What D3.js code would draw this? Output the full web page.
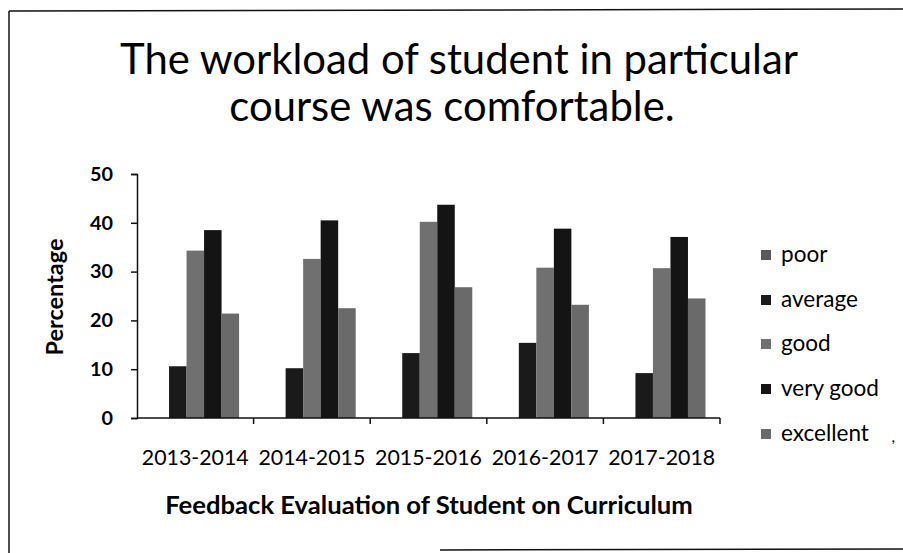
<!DOCTYPE html>
<html>
<head>
<meta charset="utf-8">
<script src="https://cdn.jsdelivr.net/npm/d3@7"></script>
<style>
  html, body { margin: 0; padding: 0; background: #fff; }
  svg { display: block; font-family: Lato, "Open Sans", sans-serif; }
</style>
</head>
<body>
<svg id="chart" width="903" height="553"></svg>
<script>
// ---- data ----
const titleLines = ["The workload of student in particular", "course was comfortable."];
const years = ["2013-2014", "2014-2015", "2015-2016", "2016-2017", "2017-2018"];
const seriesNames = ["poor", "average", "good", "very good", "excellent"];
const poor      = [0, 0, 0, 0, 0];
const average   = [10.6, 10.2, 13.3, 15.4, 9.2];
const good      = [34.3, 32.6, 40.2, 30.8, 30.7];
const veryGood  = [38.5, 40.5, 43.7, 38.8, 37.1];
const excellent = [21.4, 22.5, 26.8, 23.2, 24.5];
const yTicks = [0, 10, 20, 30, 40, 50];
const yTitle = "Percentage";
const xTitle = "Feedback Evaluation of Student on Curriculum";

const seriesValues = [poor, average, good, veryGood, excellent];
const colors = ["#5a5a5a", "#1a1a1a", "#707070", "#141414", "#6a6a6a"];

const svg = d3.select("#chart");

function fitWidth(sel, target) {
  const cur = parseFloat(sel.style("font-size"));
  const len = sel.node().getComputedTextLength();
  const size = cur * target / len;
  sel.style("font-size", size + "px");
  return size;
}

// frame (scanned border)
svg.append("line").attr("x1", 9).attr("y1", 11).attr("x2", 903).attr("y2", 9)
  .attr("stroke", "#111").attr("stroke-width", 1.5);
svg.append("line").attr("x1", 9).attr("y1", 11).attr("x2", 9).attr("y2", 553)
  .attr("stroke", "#111").attr("stroke-width", 1.5);
svg.append("line").attr("x1", 440).attr("y1", 550).attr("x2", 903).attr("y2", 549)
  .attr("stroke", "#111").attr("stroke-width", 1.5);

// title
const t1 = svg.append("text").attr("x", 459).attr("y", 74).attr("text-anchor", "middle")
  .style("font-size", "40px").attr("fill", "#000").text(titleLines[0]);
const tSize = fitWidth(t1, 678);
svg.append("text").attr("x", 452).attr("y", 121).attr("text-anchor", "middle")
  .style("font-size", tSize + "px").attr("fill", "#000").text(titleLines[1]);

// scales
const plotL = 137, plotR = 720, yTop = 174, yBot = 418;
const x = d3.scaleBand().domain(years).range([plotL, plotR])
  .paddingInner(0.249).paddingOuter(0.1245);
const x1 = d3.scaleBand().domain(seriesNames).range([0, x.bandwidth()]).padding(0);
const y = d3.scaleLinear().domain([0, 50]).range([yBot, yTop]);

// bars
const g = svg.append("g");
seriesNames.forEach((s, si) => {
  g.selectAll(null).data(years).join("rect")
    .attr("x", (d) => x(d) + x1(s))
    .attr("width", x1.bandwidth())
    .attr("y", (d, i) => y(seriesValues[si][i]))
    .attr("height", (d, i) => y(0) - y(seriesValues[si][i]))
    .attr("fill", colors[si]);
});

// y axis
const yAxis = svg.append("g").attr("transform", `translate(${plotL},0)`)
  .call(d3.axisLeft(y).tickValues(yTicks).tickSize(6).tickPadding(18).tickFormat(d3.format("d")));
yAxis.select(".domain").attr("stroke", "#111").attr("stroke-width", 1.5);
yAxis.selectAll(".tick line").attr("stroke", "#111").attr("stroke-width", 1.5);
yAxis.selectAll(".tick text").attr("fill", "#000").style("font-weight", "bold")
  .style("font-family", "Lato, sans-serif").style("font-size", "20px");
const yLab50 = yAxis.selectAll(".tick text").filter((d) => d === 50);
const ySize = fitWidth(yLab50, 23);
yAxis.selectAll(".tick text").style("font-size", ySize + "px");

// x axis
const step = x.step();
const xAxisG = svg.append("g");
xAxisG.append("line").attr("x1", plotL).attr("x2", plotR).attr("y1", yBot).attr("y2", yBot)
  .attr("stroke", "#111").attr("stroke-width", 1.5);
const boundaries = years.map((d) => x(d) - (step - x.bandwidth()) / 2).concat([plotR]);
xAxisG.selectAll(null).data(boundaries.slice(1)).join("line")
  .attr("x1", (d) => d).attr("x2", (d) => d)
  .attr("y1", yBot).attr("y2", yBot + 6)
  .attr("stroke", "#111").attr("stroke-width", 1.5);
const xLabels = xAxisG.selectAll(null).data(years).join("text")
  .attr("x", (d) => x(d) + x.bandwidth() / 2)
  .attr("y", 465)
  .attr("text-anchor", "middle")
  .attr("fill", "#000")
  .style("font-size", "22px")
  .text((d) => d);
const xSize = fitWidth(d3.select(xLabels.nodes()[0]), 107);
xLabels.style("font-size", xSize + "px");

// axis titles
const xt = svg.append("text").attr("x", 429).attr("y", 514).attr("text-anchor", "middle")
  .style("font-weight", "bold").style("font-size", "20px").attr("fill", "#000").text(xTitle);
fitWidth(xt, 528);
const yt = svg.append("text").attr("transform", "translate(63,297) rotate(-90)")
  .attr("text-anchor", "middle").style("font-weight", "bold").style("font-size", "18px")
  .attr("fill", "#000").text(yTitle);
fitWidth(yt, 117);

// legend
const legY = [255, 300, 344, 389, 434];
const leg = svg.append("g");
const legItems = leg.selectAll("g").data(seriesNames).join("g")
  .attr("transform", (d, i) => `translate(761,${legY[i]})`);
legItems.append("rect").attr("x", 0).attr("y", -5).attr("width", 10).attr("height", 10)
  .attr("fill", (d, i) => colors[i]);
const legTexts = legItems.append("text").attr("x", 20).attr("y", 0).attr("dy", "0.3em")
  .attr("fill", "#000").style("font-size", "22px").text((d) => d);
const lSize = fitWidth(d3.select(legTexts.nodes()[4]), 88);
legTexts.style("font-size", lSize + "px");
svg.append("text").attr("x", 892).attr("y", 442).attr("fill", "#000")
  .style("font-size", "16px").style("font-style", "italic").text(",");
</script>
</body>
</html>
